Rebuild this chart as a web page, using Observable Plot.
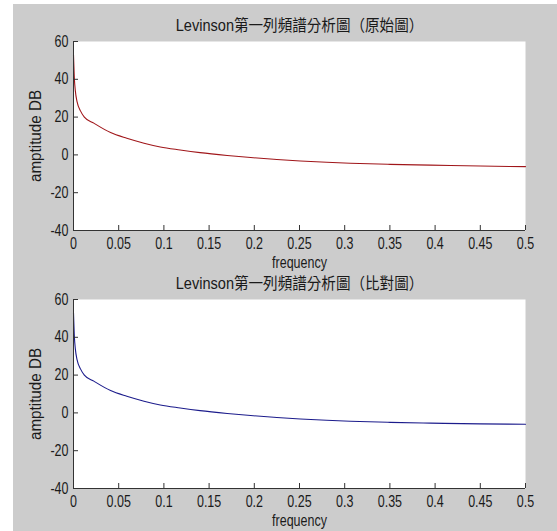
<!DOCTYPE html>
<html><head><meta charset="utf-8">
<script src="https://cdn.jsdelivr.net/npm/d3@7"></script>
<script src="https://cdn.jsdelivr.net/npm/@observablehq/plot@0.6"></script>
<style>
html,body{margin:0;padding:0;background:#fff;}
#wrap{position:relative;width:557px;height:531px;overflow:hidden;}
#bg{position:absolute;left:13px;top:4px;width:544px;height:527px;background:#cccccc;}
.panel{position:absolute;left:0;}
</style></head><body>
<div id="wrap"><div id="bg"></div><div id="p1" class="panel" style="top:0"></div><div id="p2" class="panel" style="top:265px"></div></div>
<script>
const frequency    = [0, 0.001, 0.002, 0.004, 0.0077, 0.012, 0.0225, 0.041, 0.059, 0.078, 0.096, 0.118, 0.14, 0.17, 0.196, 0.225, 0.251, 0.28, 0.306, 0.35, 0.395, 0.45, 0.5];
const originalDB   = [53, 40, 34, 28, 23.3, 20, 16.8, 11.8, 8.8, 6.2, 4.2, 2.6, 1.2, -0.3, -1.4, -2.4, -3.2, -3.9, -4.4, -5.0, -5.4, -5.9, -6.2];
const comparisonDB = [53, 40, 34, 28, 23.3, 20, 16.8, 11.8, 8.8, 6.2, 4.2, 2.6, 1.2, -0.3, -1.4, -2.4, -3.2, -3.9, -4.4, -5.0, -5.4, -5.8, -6.0];
const xTicks = [0, 0.05, 0.1, 0.15, 0.2, 0.25, 0.3, 0.35, 0.4, 0.45, 0.5];
const yTicks = [-40, -20, 0, 20, 40, 60];
const titles = ["Levinson第一列頻譜分析圖（原始圖）", "Levinson第一列頻譜分析圖（比對圖）"];
const xLabel = "frequency";
const yLabel = "amptitude DB";
const colors = ["#a0161a", "#1c1c8c"];

const FONT = '"Liberation Sans",Arial,"Noto Sans CJK TC",sans-serif';
const INK = "#1a1a1a";

function panel(values, color, title, height, mt, mb) {
  const ml = 73, mr = 32, W = 557;
  const innerH = height - mt - mb, innerW = W - ml - mr;
  const data = frequency.map((f, i) => ({f, v: values[i]}));
  return Plot.plot({
    width: W, height, marginLeft: ml, marginRight: mr, marginTop: mt, marginBottom: mb,
    style: {background: "transparent", fontFamily: FONT, fontSize: "16px", color: INK, overflow: "visible"},
    x: {domain: [xTicks[0], xTicks[xTicks.length - 1]]},
    y: {domain: [yTicks[0], yTicks[yTicks.length - 1]]},
    marks: [
      Plot.frame({fill: "white", stroke: "none"}),
      Plot.line(data, {x: "f", y: "v", stroke: color, strokeWidth: 1.1, curve: "monotone-x"}),
      Plot.ruleX([xTicks[0]], {stroke: "#333"}),
      Plot.ruleY([yTicks[0]], {stroke: "#333"}),
      Plot.tickX(xTicks, {x: d => d, insetTop: innerH - 5, stroke: "#333"}),
      Plot.tickY(yTicks, {y: d => d, insetRight: innerW - 5, stroke: "#333"}),
      Plot.axisX(xTicks, {tickSize: 0, tickPadding: 7, fontSize: 16, tickFormat: d => String(d), label: null, fill: INK}),
      Plot.axisY(yTicks, {tickSize: 0, tickPadding: 5, fontSize: 16, tickFormat: d => String(d), label: null, fill: INK}),
      Plot.text([title], {frameAnchor: "top", dy: -16, lineAnchor: "middle", text: d => d, fontSize: 16, fill: INK}),
      Plot.text([xLabel], {frameAnchor: "bottom", dy: 32, lineAnchor: "middle", text: d => d, fontSize: 16, fill: INK}),
      Plot.text([yLabel], {frameAnchor: "left", dx: -38, rotate: -90, textAnchor: "middle", lineAnchor: "middle", text: d => d, fontSize: 16, fill: INK})
    ]
  });
}

function narrow(svg) {
  svg.querySelectorAll("text").forEach(t => {
    const len = t.getComputedTextLength();
    if (!len) return;
    const c = t.textContent;
    const k = titles.includes(c) ? 0.91 : c === yLabel ? 0.95 : 0.78;
    t.setAttribute("textLength", (len * k).toFixed(2));
    t.setAttribute("lengthAdjust", "spacingAndGlyphs");
  });
}

const s1 = panel(originalDB, colors[0], titles[0], 265, 41, 35);
document.getElementById("p1").appendChild(s1);
const s2 = panel(comparisonDB, colors[1], titles[1], 266, 34, 43);
document.getElementById("p2").appendChild(s2);
narrow(s1); narrow(s2);
</script>
</body></html>
